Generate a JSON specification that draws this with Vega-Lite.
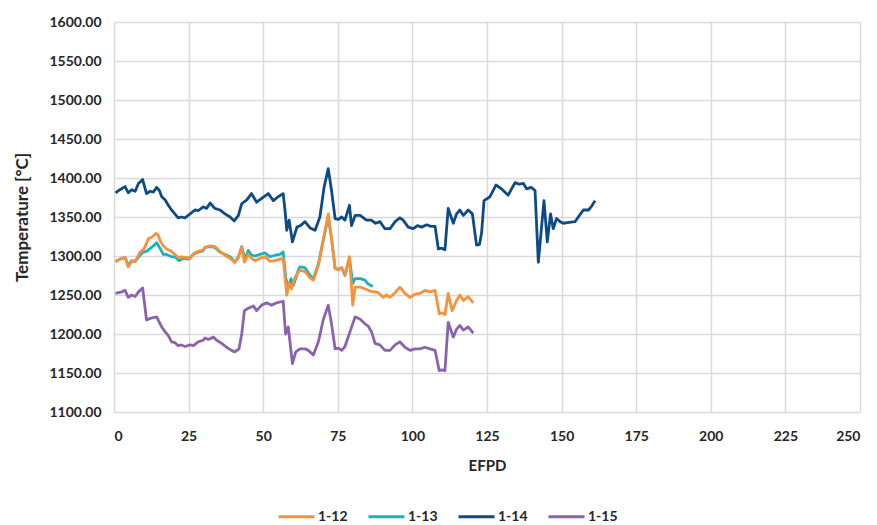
{
  "$schema": "https://vega.github.io/schema/vega-lite/v6.json",
  "width": 746,
  "height": 390,
  "autosize": {"type": "none"},
  "padding": {"left": 114, "top": 22, "right": 17, "bottom": 113},
  "background": "white",
  "config": {
    "font": "Lato",
    "view": {"stroke": null},
    "axis": {
      "labelFont": "Lato", "labelFontWeight": "bold", "labelFontSize": 14, "labelColor": "#262626",
      "titleFont": "Lato", "titleFontWeight": "bold", "titleFontSize": 17, "titleColor": "#262626",
      "gridColor": "#D9D9D9", "gridWidth": 1.5, "domain": false, "ticks": false, "tickSize": 0
    },
    "legend": {"labelFont": "Lato", "labelFontWeight": "bold", "labelFontSize": 14, "labelColor": "#262626"}
  },
  "data": {"values": [
    {"s":"1-14","x":0.5,"y":1381},{"s":"1-14","x":2,"y":1385},{"s":"1-14","x":3.7,"y":1389},{"s":"1-14","x":4.8,"y":1381},{"s":"1-14","x":5.9,"y":1385},{"s":"1-14","x":7.1,"y":1383},{"s":"1-14","x":8.2,"y":1393},{"s":"1-14","x":9.6,"y":1398},{"s":"1-14","x":10.9,"y":1380},{"s":"1-14","x":12.1,"y":1383},{"s":"1-14","x":13.2,"y":1382},{"s":"1-14","x":14.3,"y":1388},{"s":"1-14","x":15.2,"y":1384},{"s":"1-14","x":16,"y":1376},{"s":"1-14","x":17.1,"y":1372},{"s":"1-14","x":18.2,"y":1365},{"s":"1-14","x":19.3,"y":1359},{"s":"1-14","x":20.4,"y":1354},{"s":"1-14","x":21.5,"y":1349},{"s":"1-14","x":22.6,"y":1350},{"s":"1-14","x":23.8,"y":1349},{"s":"1-14","x":25.5,"y":1354},{"s":"1-14","x":27.1,"y":1359},{"s":"1-14","x":28.2,"y":1358},{"s":"1-14","x":29.9,"y":1363},{"s":"1-14","x":31,"y":1361},{"s":"1-14","x":32.2,"y":1368},{"s":"1-14","x":33.8,"y":1361},{"s":"1-14","x":35.5,"y":1359},{"s":"1-14","x":37.2,"y":1354},{"s":"1-14","x":38.9,"y":1350},{"s":"1-14","x":40.3,"y":1345},{"s":"1-14","x":41.7,"y":1352},{"s":"1-14","x":42.8,"y":1367},{"s":"1-14","x":44.5,"y":1372},{"s":"1-14","x":46.1,"y":1380},{"s":"1-14","x":47.8,"y":1369},{"s":"1-14","x":49.5,"y":1374},{"s":"1-14","x":51.7,"y":1380},{"s":"1-14","x":53.4,"y":1371},{"s":"1-14","x":55,"y":1376},{"s":"1-14","x":56.7,"y":1380},{"s":"1-14","x":57.3,"y":1359},{"s":"1-14","x":57.9,"y":1333},{"s":"1-14","x":58.7,"y":1346},{"s":"1-14","x":59.8,"y":1318},{"s":"1-14","x":61.3,"y":1337},{"s":"1-14","x":62.5,"y":1339},{"s":"1-14","x":64,"y":1344},{"s":"1-14","x":65.7,"y":1336},{"s":"1-14","x":67.4,"y":1333},{"s":"1-14","x":69,"y":1350},{"s":"1-14","x":70.4,"y":1388},{"s":"1-14","x":71.8,"y":1412},{"s":"1-14","x":72.9,"y":1384},{"s":"1-14","x":74.1,"y":1348},{"s":"1-14","x":75.2,"y":1347},{"s":"1-14","x":76.3,"y":1350},{"s":"1-14","x":77.4,"y":1346},{"s":"1-14","x":78.9,"y":1365},{"s":"1-14","x":79.6,"y":1339},{"s":"1-14","x":80.8,"y":1352},{"s":"1-14","x":82.5,"y":1352},{"s":"1-14","x":84.6,"y":1346},{"s":"1-14","x":86.2,"y":1346},{"s":"1-14","x":87.7,"y":1342},{"s":"1-14","x":89.1,"y":1344},{"s":"1-14","x":90.8,"y":1335},{"s":"1-14","x":92.5,"y":1335},{"s":"1-14","x":94.2,"y":1344},{"s":"1-14","x":95.8,"y":1349},{"s":"1-14","x":96.9,"y":1346},{"s":"1-14","x":98.6,"y":1337},{"s":"1-14","x":100.3,"y":1335},{"s":"1-14","x":101.7,"y":1339},{"s":"1-14","x":103.1,"y":1337},{"s":"1-14","x":104.8,"y":1340},{"s":"1-14","x":106.2,"y":1338},{"s":"1-14","x":107.6,"y":1338},{"s":"1-14","x":108.7,"y":1309},{"s":"1-14","x":109.8,"y":1310},{"s":"1-14","x":110.9,"y":1308},{"s":"1-14","x":112,"y":1361},{"s":"1-14","x":113.7,"y":1342},{"s":"1-14","x":114.8,"y":1354},{"s":"1-14","x":115.9,"y":1359},{"s":"1-14","x":117.1,"y":1352},{"s":"1-14","x":118.7,"y":1359},{"s":"1-14","x":120.1,"y":1354},{"s":"1-14","x":121.5,"y":1314},{"s":"1-14","x":122.5,"y":1315},{"s":"1-14","x":123.2,"y":1330},{"s":"1-14","x":124,"y":1371},{"s":"1-14","x":126,"y":1376},{"s":"1-14","x":128,"y":1391},{"s":"1-14","x":129.9,"y":1386},{"s":"1-14","x":132.1,"y":1378},{"s":"1-14","x":134.4,"y":1394},{"s":"1-14","x":135.8,"y":1392},{"s":"1-14","x":137.2,"y":1393},{"s":"1-14","x":138.3,"y":1386},{"s":"1-14","x":139.8,"y":1388},{"s":"1-14","x":141.1,"y":1384},{"s":"1-14","x":142.2,"y":1292},{"s":"1-14","x":144.1,"y":1371},{"s":"1-14","x":145.2,"y":1318},{"s":"1-14","x":146.3,"y":1354},{"s":"1-14","x":147.2,"y":1335},{"s":"1-14","x":148.3,"y":1348},{"s":"1-14","x":149.5,"y":1344},{"s":"1-14","x":150.6,"y":1342},{"s":"1-14","x":152.5,"y":1343},{"s":"1-14","x":154.5,"y":1344},{"s":"1-14","x":155.6,"y":1350},{"s":"1-14","x":157.3,"y":1359},{"s":"1-14","x":159,"y":1359},{"s":"1-14","x":160.1,"y":1364},{"s":"1-14","x":161.2,"y":1371},

    {"s":"1-13","x":0.5,"y":1293},{"s":"1-13","x":1.5,"y":1295},{"s":"1-13","x":2.6,"y":1297},{"s":"1-13","x":3.7,"y":1298},{"s":"1-13","x":4.8,"y":1288},{"s":"1-13","x":5.9,"y":1294},{"s":"1-13","x":7.1,"y":1293},{"s":"1-13","x":8.7,"y":1301},{"s":"1-13","x":9.8,"y":1305},{"s":"1-13","x":10.9,"y":1306},{"s":"1-13","x":12.6,"y":1311},{"s":"1-13","x":14.3,"y":1317},{"s":"1-13","x":15.4,"y":1310},{"s":"1-13","x":16.5,"y":1302},{"s":"1-13","x":17.6,"y":1302},{"s":"1-13","x":19.3,"y":1299},{"s":"1-13","x":20.4,"y":1299},{"s":"1-13","x":21.8,"y":1294},{"s":"1-13","x":23.2,"y":1297},{"s":"1-13","x":24.9,"y":1296},{"s":"1-13","x":26.6,"y":1302},{"s":"1-13","x":28.2,"y":1305},{"s":"1-13","x":29.9,"y":1307},{"s":"1-13","x":30.5,"y":1311},{"s":"1-13","x":32.2,"y":1312},{"s":"1-13","x":33.8,"y":1311},{"s":"1-13","x":35.5,"y":1305},{"s":"1-13","x":37.2,"y":1302},{"s":"1-13","x":38.9,"y":1299},{"s":"1-13","x":40.5,"y":1292},{"s":"1-13","x":41.7,"y":1299},{"s":"1-13","x":42.8,"y":1312},{"s":"1-13","x":43.7,"y":1299},{"s":"1-13","x":44.5,"y":1301},{"s":"1-13","x":45,"y":1307},{"s":"1-13","x":46.1,"y":1301},{"s":"1-13","x":47.3,"y":1300},{"s":"1-13","x":48.9,"y":1302},{"s":"1-13","x":50.6,"y":1304},{"s":"1-13","x":52.3,"y":1299},{"s":"1-13","x":54,"y":1301},{"s":"1-13","x":55.6,"y":1302},{"s":"1-13","x":56.7,"y":1305},{"s":"1-13","x":57.6,"y":1271},{"s":"1-13","x":58.4,"y":1260},{"s":"1-13","x":59.3,"y":1271},{"s":"1-13","x":60.1,"y":1262},{"s":"1-13","x":61.8,"y":1282},{"s":"1-13","x":62.3,"y":1286},{"s":"1-13","x":64,"y":1285},{"s":"1-13","x":65.7,"y":1275},{"s":"1-13","x":66.8,"y":1271},{"s":"1-13","x":68.5,"y":1290},{"s":"1-13","x":70.1,"y":1320},{"s":"1-13","x":71.8,"y":1350},{"s":"1-13","x":72.9,"y":1322},{"s":"1-13","x":74.1,"y":1284},{"s":"1-13","x":75.2,"y":1283},{"s":"1-13","x":76.3,"y":1285},{"s":"1-13","x":77.4,"y":1275},{"s":"1-13","x":78.9,"y":1297},{"s":"1-13","x":80,"y":1265},{"s":"1-13","x":80.8,"y":1271},{"s":"1-13","x":82.5,"y":1271},{"s":"1-13","x":84.1,"y":1269},{"s":"1-13","x":85.2,"y":1264},{"s":"1-13","x":86.7,"y":1261},

    {"s":"1-12","x":0.5,"y":1293},{"s":"1-12","x":1.5,"y":1295},{"s":"1-12","x":2.6,"y":1297},{"s":"1-12","x":3.7,"y":1298},{"s":"1-12","x":4.8,"y":1286},{"s":"1-12","x":5.9,"y":1293},{"s":"1-12","x":7.1,"y":1293},{"s":"1-12","x":8.7,"y":1305},{"s":"1-12","x":9.8,"y":1308},{"s":"1-12","x":10.4,"y":1312},{"s":"1-12","x":11.5,"y":1322},{"s":"1-12","x":12.6,"y":1324},{"s":"1-12","x":13.5,"y":1327},{"s":"1-12","x":14.1,"y":1329},{"s":"1-12","x":14.8,"y":1327},{"s":"1-12","x":15.4,"y":1320},{"s":"1-12","x":16.5,"y":1313},{"s":"1-12","x":17.6,"y":1309},{"s":"1-12","x":18.8,"y":1307},{"s":"1-12","x":20.4,"y":1302},{"s":"1-12","x":21.5,"y":1298},{"s":"1-12","x":22.6,"y":1299},{"s":"1-12","x":24.3,"y":1298},{"s":"1-12","x":25.5,"y":1297},{"s":"1-12","x":26.6,"y":1303},{"s":"1-12","x":28.2,"y":1306},{"s":"1-12","x":29.9,"y":1308},{"s":"1-12","x":30.5,"y":1311},{"s":"1-12","x":32.2,"y":1313},{"s":"1-12","x":33.8,"y":1312},{"s":"1-12","x":35.5,"y":1306},{"s":"1-12","x":37.2,"y":1301},{"s":"1-12","x":38.9,"y":1297},{"s":"1-12","x":40.5,"y":1292},{"s":"1-12","x":41.7,"y":1298},{"s":"1-12","x":42.8,"y":1311},{"s":"1-12","x":43.7,"y":1292},{"s":"1-12","x":45,"y":1302},{"s":"1-12","x":46.1,"y":1297},{"s":"1-12","x":47.3,"y":1294},{"s":"1-12","x":48.9,"y":1297},{"s":"1-12","x":50.6,"y":1299},{"s":"1-12","x":52.3,"y":1293},{"s":"1-12","x":54,"y":1294},{"s":"1-12","x":55.6,"y":1296},{"s":"1-12","x":56.7,"y":1297},{"s":"1-12","x":57.9,"y":1250},{"s":"1-12","x":58.7,"y":1265},{"s":"1-12","x":59.5,"y":1258},{"s":"1-12","x":60.7,"y":1273},{"s":"1-12","x":62.3,"y":1282},{"s":"1-12","x":64,"y":1280},{"s":"1-12","x":65.7,"y":1272},{"s":"1-12","x":66.8,"y":1269},{"s":"1-12","x":68.5,"y":1288},{"s":"1-12","x":70.1,"y":1320},{"s":"1-12","x":71.8,"y":1354},{"s":"1-12","x":72.9,"y":1323},{"s":"1-12","x":74.1,"y":1284},{"s":"1-12","x":75.2,"y":1282},{"s":"1-12","x":76.3,"y":1285},{"s":"1-12","x":77.4,"y":1276},{"s":"1-12","x":78.9,"y":1299},{"s":"1-12","x":80,"y":1237},{"s":"1-12","x":80.8,"y":1260},{"s":"1-12","x":82.5,"y":1260},{"s":"1-12","x":84.1,"y":1258},{"s":"1-12","x":85.8,"y":1255},{"s":"1-12","x":87.5,"y":1254},{"s":"1-12","x":88.6,"y":1253},{"s":"1-12","x":90.2,"y":1247},{"s":"1-12","x":91.3,"y":1250},{"s":"1-12","x":92.5,"y":1247},{"s":"1-12","x":94.2,"y":1253},{"s":"1-12","x":95.8,"y":1260},{"s":"1-12","x":97.5,"y":1252},{"s":"1-12","x":99.2,"y":1247},{"s":"1-12","x":100.9,"y":1251},{"s":"1-12","x":102.5,"y":1252},{"s":"1-12","x":104.2,"y":1256},{"s":"1-12","x":105.9,"y":1254},{"s":"1-12","x":107.6,"y":1256},{"s":"1-12","x":109,"y":1226},{"s":"1-12","x":109.9,"y":1227},{"s":"1-12","x":110.9,"y":1225},{"s":"1-12","x":112,"y":1252},{"s":"1-12","x":113.3,"y":1230},{"s":"1-12","x":114.8,"y":1243},{"s":"1-12","x":115.9,"y":1250},{"s":"1-12","x":117.1,"y":1243},{"s":"1-12","x":118.7,"y":1248},{"s":"1-12","x":120.4,"y":1240},

    {"s":"1-15","x":0.5,"y":1252},{"s":"1-15","x":1.5,"y":1253},{"s":"1-15","x":2.6,"y":1254},{"s":"1-15","x":3.7,"y":1256},{"s":"1-15","x":4.8,"y":1247},{"s":"1-15","x":5.9,"y":1250},{"s":"1-15","x":7.1,"y":1248},{"s":"1-15","x":8.2,"y":1254},{"s":"1-15","x":9.6,"y":1259},{"s":"1-15","x":10.9,"y":1218},{"s":"1-15","x":12.1,"y":1220},{"s":"1-15","x":13.2,"y":1221},{"s":"1-15","x":14.3,"y":1222},{"s":"1-15","x":15.2,"y":1215},{"s":"1-15","x":16,"y":1209},{"s":"1-15","x":17.1,"y":1203},{"s":"1-15","x":18.2,"y":1198},{"s":"1-15","x":19.3,"y":1190},{"s":"1-15","x":20.4,"y":1189},{"s":"1-15","x":21.5,"y":1185},{"s":"1-15","x":22.6,"y":1186},{"s":"1-15","x":23.8,"y":1184},{"s":"1-15","x":25.5,"y":1186},{"s":"1-15","x":26.6,"y":1185},{"s":"1-15","x":28.2,"y":1190},{"s":"1-15","x":29.9,"y":1192},{"s":"1-15","x":30.5,"y":1195},{"s":"1-15","x":31.6,"y":1193},{"s":"1-15","x":33.3,"y":1196},{"s":"1-15","x":34.4,"y":1192},{"s":"1-15","x":36.1,"y":1188},{"s":"1-15","x":37.7,"y":1183},{"s":"1-15","x":39.4,"y":1179},{"s":"1-15","x":40.5,"y":1177},{"s":"1-15","x":41.9,"y":1181},{"s":"1-15","x":42.8,"y":1200},{"s":"1-15","x":43.7,"y":1230},{"s":"1-15","x":45,"y":1233},{"s":"1-15","x":46.7,"y":1236},{"s":"1-15","x":47.8,"y":1230},{"s":"1-15","x":49.5,"y":1237},{"s":"1-15","x":51.2,"y":1240},{"s":"1-15","x":52.8,"y":1237},{"s":"1-15","x":54.5,"y":1240},{"s":"1-15","x":56.7,"y":1242},{"s":"1-15","x":57.5,"y":1200},{"s":"1-15","x":58.4,"y":1209},{"s":"1-15","x":59.8,"y":1162},{"s":"1-15","x":60.9,"y":1177},{"s":"1-15","x":62.3,"y":1181},{"s":"1-15","x":64,"y":1181},{"s":"1-15","x":65.1,"y":1179},{"s":"1-15","x":66.8,"y":1173},{"s":"1-15","x":68.5,"y":1190},{"s":"1-15","x":70.1,"y":1218},{"s":"1-15","x":71.8,"y":1237},{"s":"1-15","x":72.9,"y":1213},{"s":"1-15","x":74.1,"y":1181},{"s":"1-15","x":75.2,"y":1182},{"s":"1-15","x":76.3,"y":1179},{"s":"1-15","x":77.4,"y":1184},{"s":"1-15","x":79.1,"y":1203},{"s":"1-15","x":80.8,"y":1222},{"s":"1-15","x":82.5,"y":1219},{"s":"1-15","x":84.1,"y":1213},{"s":"1-15","x":85.2,"y":1210},{"s":"1-15","x":86.3,"y":1203},{"s":"1-15","x":87.5,"y":1188},{"s":"1-15","x":89.1,"y":1186},{"s":"1-15","x":90.8,"y":1179},{"s":"1-15","x":92.5,"y":1179},{"s":"1-15","x":94.2,"y":1186},{"s":"1-15","x":95.8,"y":1190},{"s":"1-15","x":97.5,"y":1183},{"s":"1-15","x":99.2,"y":1179},{"s":"1-15","x":100.9,"y":1181},{"s":"1-15","x":102.5,"y":1181},{"s":"1-15","x":104.2,"y":1183},{"s":"1-15","x":105.9,"y":1181},{"s":"1-15","x":107.6,"y":1179},{"s":"1-15","x":109,"y":1153},{"s":"1-15","x":109.9,"y":1154},{"s":"1-15","x":110.9,"y":1153},{"s":"1-15","x":112,"y":1215},{"s":"1-15","x":113.7,"y":1196},{"s":"1-15","x":114.8,"y":1206},{"s":"1-15","x":115.9,"y":1211},{"s":"1-15","x":117.1,"y":1205},{"s":"1-15","x":118.7,"y":1209},{"s":"1-15","x":120.4,"y":1201}
  ]},
  "mark": {"type": "line", "strokeWidth": 2.8, "strokeJoin": "round"},
  "encoding": {
    "x": {
      "field": "x", "type": "quantitative", "title": "EFPD",
      "scale": {"domain": [0, 250], "nice": false},
      "axis": {"values": [0, 25, 50, 75, 100, 125, 150, 175, 200, 225, 250], "labelPadding": 17, "titleY": 53, "titleBaseline": "middle", "titleFontSize": 15}
    },
    "y": {
      "field": "y", "type": "quantitative", "title": "Temperature [°C]",
      "scale": {"domain": [1100, 1600], "nice": false, "zero": false},
      "axis": {"values": [1100, 1150, 1200, 1250, 1300, 1350, 1400, 1450, 1500, 1550, 1600], "format": ".2f", "labelPadding": 13, "titleX": -92, "titleBaseline": "middle"}
    },
    "color": {
      "field": "s", "type": "nominal",
      "scale": {"domain": ["1-12", "1-13", "1-14", "1-15"], "range": ["#F7923A", "#1BAFC4", "#0E4A84", "#8A63AE"]},
      "legend": {
        "title": null, "orient": "none", "direction": "horizontal",
        "legendX": 163, "legendY": 475,
        "symbolType": "stroke", "symbolSize": 1296, "symbolStrokeWidth": 3,
        "labelOffset": 2, "columnPadding": 14
      }
    }
  }
}
